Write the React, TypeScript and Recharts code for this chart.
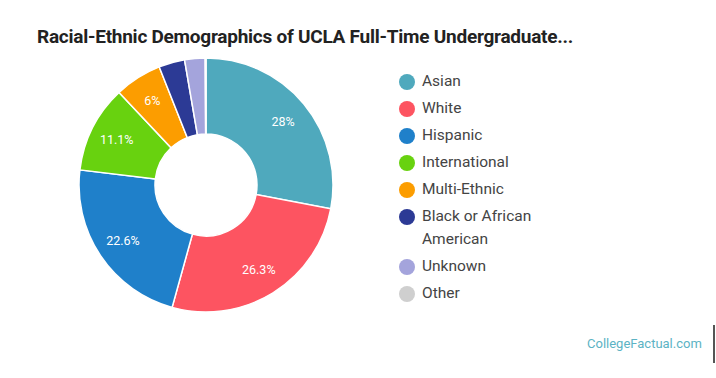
import React from 'react';
import { PieChart, Pie, Cell, Legend } from 'recharts';

const groups = [
  'Asian',
  'White',
  'Hispanic',
  'International',
  'Multi-Ethnic',
  'Black or African American',
  'Unknown',
  'Other',
];
const shares = [28, 26.3, 22.6, 11.1, 6, 3.3, 2.6, 0.1];
const colors = [
  '#4fa9bd',
  '#fd5461',
  '#1f80ca',
  '#68d20f',
  '#fc9d00',
  '#2c3a95',
  '#a4a4dc',
  '#cfcfcf',
];

const chartData = groups.map((name, i) => ({ name, value: shares[i], color: colors[i] }));

const RADIAN = Math.PI / 180;
const font = 'Roboto, "Noto Sans", sans-serif';

const renderLabel = (props: any) => {
  const { cx, cy, midAngle, value } = props;
  if (value < 5) return null;
  const r = 100;
  const x = cx + r * Math.cos(-midAngle * RADIAN);
  const y = cy + r * Math.sin(-midAngle * RADIAN);
  return (
    <text
      x={x}
      y={y}
      fill="#ffffff"
      textAnchor="middle"
      dominantBaseline="central"
      fontSize={12.5}
      fontFamily={font}
    >
      {`${value}%`}
    </text>
  );
};

const renderLegend = () => (
  <div style={{ fontFamily: font }}>
    {chartData.map((d) => (
      <div
        key={d.name}
        style={{ display: 'flex', alignItems: 'flex-start', marginBottom: 4 }}
      >
        <span
          style={{
            width: 16,
            height: 16,
            borderRadius: '50%',
            background: d.color,
            marginTop: 4,
            marginRight: 7,
            flexShrink: 0,
          }}
        />
        <span style={{ fontSize: 15.5, color: '#444', lineHeight: '23px', width: 130 }}>
          {d.name}
        </span>
      </div>
    ))}
  </div>
);

export default function App() {
  return (
    <div
      style={{
        position: 'absolute',
        left: 0,
        top: 0,
        width: 716,
        height: 378,
        background: '#fff',
        overflow: 'hidden',
      }}
    >
      <div
        style={{
          position: 'absolute',
          left: 37,
          top: 25,
          fontFamily: font,
          fontWeight: 700,
          fontSize: 19,
          letterSpacing: -0.25,
          color: '#222',
          whiteSpace: 'nowrap',
        }}
      >
        Racial-Ethnic Demographics of UCLA Full-Time Undergraduate...
      </div>
      <PieChart width={716} height={378} style={{ position: 'absolute', left: 0, top: 0 }}>
        <Pie
          data={chartData}
          dataKey="value"
          nameKey="name"
          cx={201}
          cy={180}
          innerRadius={51}
          outerRadius={127}
          startAngle={90}
          endAngle={-270}
          stroke="#ffffff"
          strokeWidth={1.5}
          label={renderLabel}
          labelLine={false}
          isAnimationActive={false}
        >
          {chartData.map((d) => (
            <Cell key={d.name} fill={d.color} />
          ))}
        </Pie>
        <Legend
          layout="vertical"
          align="right"
          verticalAlign="top"
          content={renderLegend}
          wrapperStyle={{ left: 399, top: 70, width: 200 }}
        />
      </PieChart>
      <div
        style={{
          position: 'absolute',
          left: 587,
          top: 336,
          fontFamily: font,
          fontSize: 13,
          color: '#5cb3c4',
        }}
      >
        CollegeFactual.com
      </div>
      <div
        style={{
          position: 'absolute',
          left: 713,
          top: 325,
          width: 2,
          height: 38,
          background: '#555',
        }}
      />
    </div>
  );
}
